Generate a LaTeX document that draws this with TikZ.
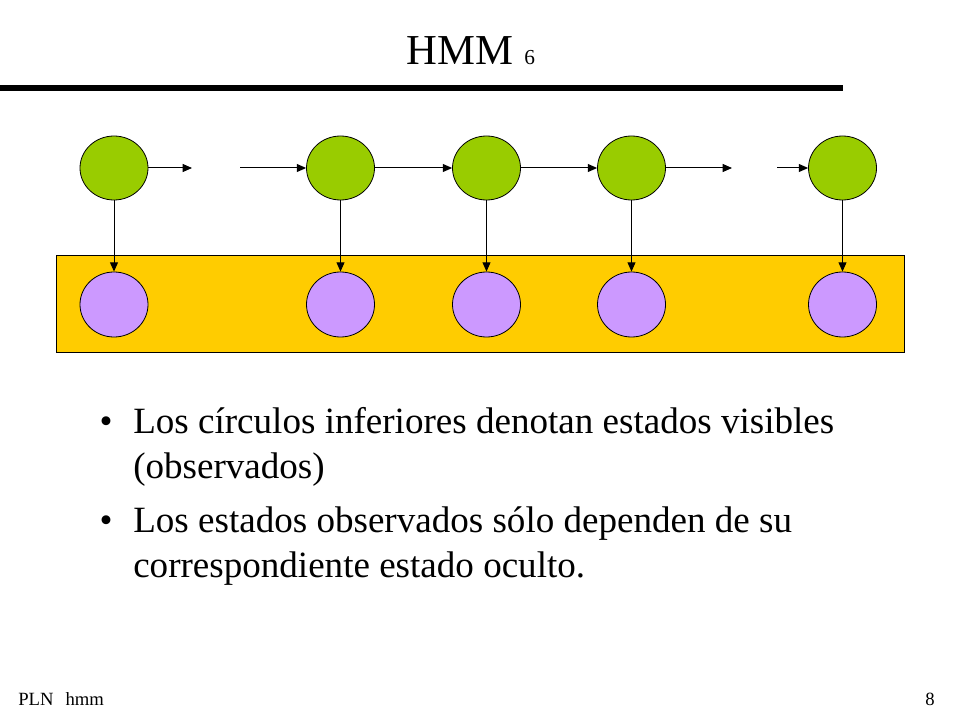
\documentclass[tikz,border=0pt]{standalone}
\usepackage{fontspec}
\setmainfont{Liberation Serif}
\usetikzlibrary{shapes.geometric,arrows.meta}
\definecolor{verde}{HTML}{99CC00}
\definecolor{lila}{HTML}{CC99FF}
\definecolor{amarillo}{HTML}{FFCC00}
\newcommand{\cuerpo}{\fontsize{27.8}{34}\selectfont}

\begin{document}
\begin{tikzpicture}[x=0.75pt,y=-0.75pt,
	oculto/.style={ellipse,draw=black,line width=0.6pt,fill=verde,minimum width=51pt,minimum height=48pt,inner sep=0pt},
	visible/.style={ellipse,draw=black,line width=0.6pt,fill=lila,minimum width=51pt,minimum height=48.75pt,inner sep=0pt},
	flecha/.style={-{Triangle[length=7pt,width=6pt]},line width=0.75pt},
	linea/.style={anchor=base west,inner sep=0pt,font=\cuerpo}]
	\useasboundingbox (0,0) rectangle (960,720);
	\node (titulo) at (471,65) [anchor=base,inner sep=0pt] {\fontsize{32}{38}\selectfont HMM {\fontsize{16}{18}\selectfont 6}};
	\draw[line width=4.5pt] (0,88) -- (843,88);
	\draw[fill=amarillo,line width=0.75pt] (56,256) rectangle (904,352);
	\foreach \i/\x in {1/114,2/340.5,3/486.5,4/631.5,5/842.5}
	{
		\node (h\i) at (\x,168) [oculto] {};
		\node (o\i) at (\x,304.5) [visible] {};
		\draw[flecha] (h\i) -- (o\i);
	}
	\coordinate (f1) at (192,168);
	\coordinate (f2) at (240,168);
	\coordinate (f3) at (732,168);
	\coordinate (f4) at (777,168);
	\draw[flecha] (h1) -- (f1);
	\draw[flecha] (f2) -- (h2);
	\draw[flecha] (h2) -- (h3);
	\draw[flecha] (h3) -- (h4);
	\draw[flecha] (h4) -- (f3);
	\draw[flecha] (f4) -- (h5);
	\node (b1) at (106,433) [anchor=base,inner sep=0pt,font=\cuerpo] {\textbullet};
	\node (l1) at (133,433) [linea] {Los círculos inferiores denotan estados visibles};
	\node (l2) at (133,478) [linea] {(observados)};
	\node (b2) at (106,532) [anchor=base,inner sep=0pt,font=\cuerpo] {\textbullet};
	\node (l3) at (133,532) [linea] {Los estados observados sólo dependen de su};
	\node (l4) at (133,577) [linea] {correspondiente estado oculto.};
	\node (pie) at (18,705) [anchor=base west,inner sep=0pt,font=\fontsize{14}{16}\selectfont] {PLN\hspace{9pt}hmm};
	\node (pag) at (935,705) [anchor=base east,inner sep=0pt,font=\fontsize{14}{16}\selectfont] {8};
\end{tikzpicture}
\end{document}
